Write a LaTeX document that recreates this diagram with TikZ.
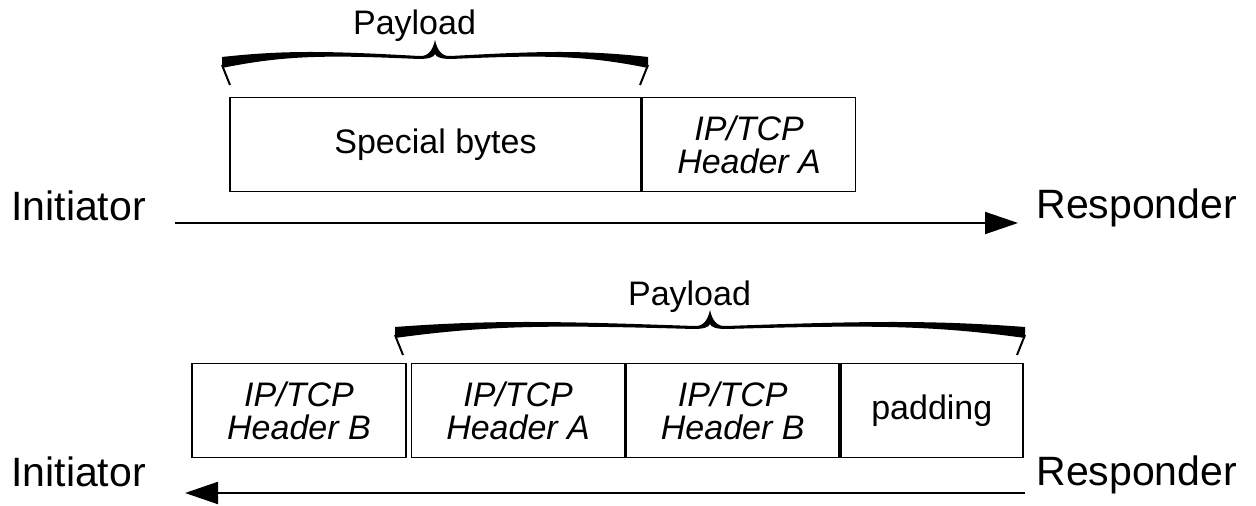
\documentclass[tikz,border=0pt]{standalone}
\usepackage{fontspec}
\setmainfont{Liberation Sans}
\usetikzlibrary{positioning,arrows.meta}

\newcommand{\payloadbrace}[3]{% left x, right x, bottom y of the hooks
  \pgfmathsetmacro\brM{(#1+#2)/2}
  \pgfmathsetmacro\brA{(#2-#1)/2}
  \fill (#1,#3-28) .. controls (#1+0.3*\brA,#3-35) and (\brM-0.5*\brA,#3-34) .. (\brM-16,#3-29)
    .. controls (\brM-6,#3-28) and (\brM-2,#3-36) .. (\brM,#3-45)
    .. controls (\brM+2,#3-36) and (\brM+6,#3-28) .. (\brM+16,#3-29)
    .. controls (\brM+0.5*\brA,#3-34) and (#2-0.3*\brA,#3-35) .. (#2,#3-28)
    -- (#2,#3-17)
    .. controls (#2-0.3*\brA,#3-30) and (\brM+0.5*\brA,#3-30) .. (\brM+16,#3-26)
    .. controls (\brM+6,#3-26) and (\brM+1,#3-28) .. (\brM,#3-31)
    .. controls (\brM-1,#3-28) and (\brM-6,#3-26) .. (\brM-16,#3-26)
    .. controls (\brM-0.5*\brA,#3-30) and (#1+0.3*\brA,#3-30) .. (#1,#3-17) -- cycle;
  \draw[line width=1pt] (#1,#3-20) -- (#1+8,#3) (#2,#3-20) -- (#2-8,#3);
}

\begin{document}
\begin{tikzpicture}[x=0.5pt, y=-0.5pt,
    small/.style={font=\fontsize{17}{16.5}\selectfont},
    cell/.style={small, draw, line width=0.8pt, inner sep=0pt, minimum height=47pt},
    hdr/.style={cell, font=\fontsize{17}{16.5}\selectfont\itshape, align=center},
    side/.style={font=\fontsize{20.5}{24}\selectfont, inner sep=0pt, anchor=base west},
    flow/.style={line width=1pt, -{Triangle[length=16.5pt,width=11pt]}}]
  \useasboundingbox (0,0) rectangle (1256,506);

  % first packet: initiator to responder
  \node[cell, minimum width=205.5pt] (spec) at (435.5,144.5) {Special bytes};
  \node[hdr, minimum width=106.5pt, right=0pt of spec] (hdrA) {IP/TCP\\Header A};
  \payloadbrace{222}{648}{85}
  \node[small, anchor=base] (pay1) at (414.5,35) {Payload};
  \node[side] (init1) at (11,221) {Initiator};
  \node[side] (resp1) at (1036,219) {Responder};
  \coordinate (from1) at (175,223);
  \coordinate (to1) at (1018,223);
  \draw[flow] (from1) -- (to1);

  % second packet: responder back to initiator
  \node[hdr, minimum width=107pt] (hdrB) at (299,410.5) {IP/TCP\\Header B};
  \node[hdr, minimum width=106.5pt, right=2pt of hdrB] (innerA) {IP/TCP\\Header A};
  \node[hdr, minimum width=106.5pt, right=0pt of innerA] (innerB) {IP/TCP\\Header B};
  \node[cell, minimum width=91pt, right=0pt of innerB] (pad) {padding};
  \payloadbrace{395}{1025}{355}
  \node[small, anchor=base] (pay2) at (689.5,306) {Payload};
  \node[side] (init2) at (11,487) {Initiator};
  \node[side] (resp2) at (1036,486) {Responder};
  \coordinate (from2) at (1025,493);
  \coordinate (to2) at (185,493);
  \draw[flow] (from2) -- (to2);
\end{tikzpicture}
\end{document}
